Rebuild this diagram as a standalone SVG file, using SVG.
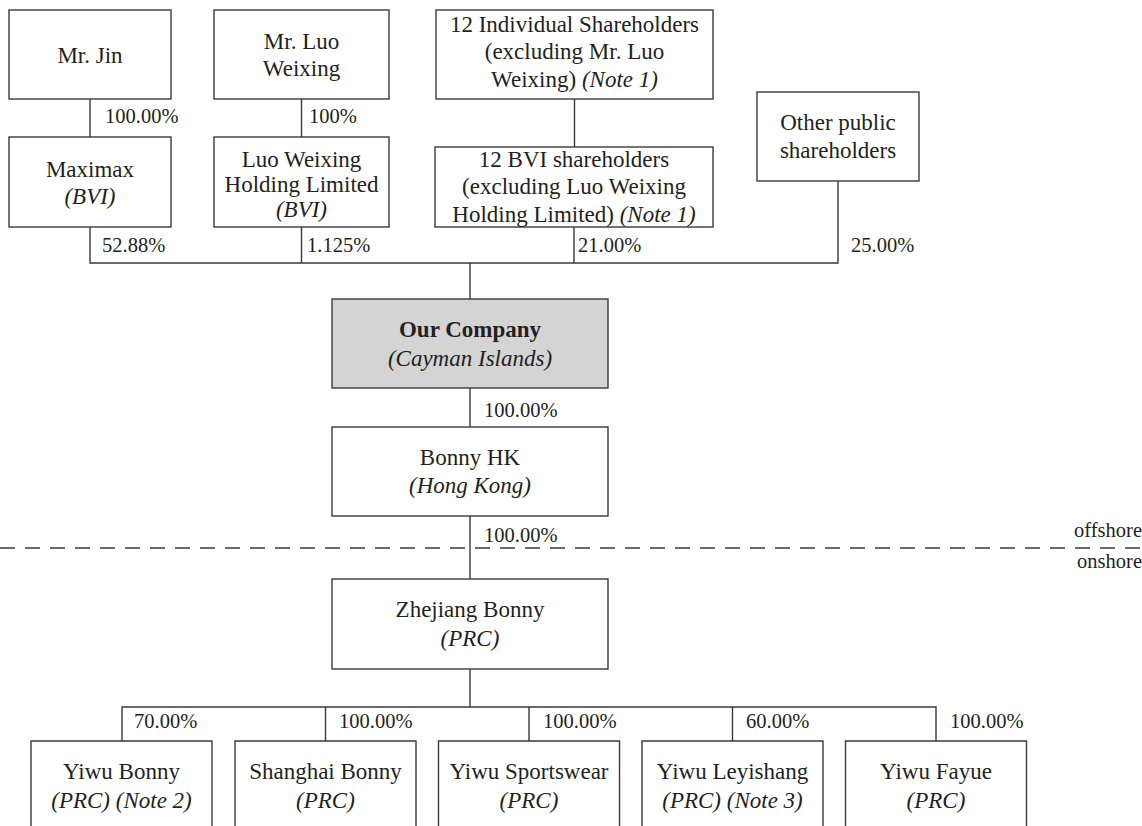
<svg xmlns="http://www.w3.org/2000/svg" width="1142" height="826" viewBox="0 0 1142 826">
<style>
.box{fill:#fff;stroke:#3a3a3a;stroke-width:1.4}
.gray{fill:#d4d4d4}
.t{font-family:"Liberation Serif","Times New Roman",serif;font-size:23px;fill:#231f20;text-anchor:middle}
.p{font-family:"Liberation Serif","Times New Roman",serif;font-size:20.5px;fill:#231f20}
.i{font-style:italic}
.b{font-weight:bold}
.ln{fill:none;stroke:#3a3a3a;stroke-width:1.4}
.dash{fill:none;stroke:#3a3a3a;stroke-width:1.4;stroke-dasharray:15 10}
</style>
<rect width="1142" height="826" fill="#fff"/>
<g id="connectors">
<path class="ln" d="M90 99V137M301.5 99V137M574.5 99V147"/>
<path class="ln" d="M90 227V263H838V181M301.5 227V263M574 227V263M470 263V299"/>
<path class="ln" d="M470 388V427M470 516V579"/>
<path class="ln" d="M470 669V707M122 741V707H936V741M325.5 707V741M529 707V741M732.5 707V741"/>
<path class="dash" d="M0 548H1142"/>
</g>
<g id="labels">
<text class="p" x="105" y="123">100.00%</text>
<text class="p" x="309" y="123">100%</text>
<text class="p" x="102" y="252">52.88%</text>
<text class="p" x="307" y="252">1.125%</text>
<text class="p" x="578" y="252">21.00%</text>
<text class="p" x="851" y="252">25.00%</text>
<text class="p" x="484" y="417">100.00%</text>
<text class="p" x="484" y="542">100.00%</text>
<text class="p" x="134" y="728">70.00%</text>
<text class="p" x="339" y="728">100.00%</text>
<text class="p" x="543" y="728">100.00%</text>
<text class="p" x="746" y="728">60.00%</text>
<text class="p" x="950" y="728">100.00%</text>
<text class="p" x="1142" y="537" text-anchor="end">offshore</text>
<text class="p" x="1142" y="568" text-anchor="end">onshore</text>
</g>
<g id="mr-jin"><rect class="box" x="9" y="10" width="162" height="89"/><text class="t" x="90" y="63">Mr. Jin</text></g>
<g id="mr-luo"><rect class="box" x="214" y="10" width="175" height="89"/><text class="t" x="301.5" y="49">Mr. Luo</text><text class="t" x="301.5" y="76">Weixing</text></g>
<g id="individual-12"><rect class="box" x="436" y="10" width="277" height="89"/><text class="t" x="574.5" y="32">12 Individual Shareholders</text><text class="t" x="574.5" y="59">(excluding Mr. Luo</text><text class="t" x="574.5" y="87">Weixing) <tspan class="i">(Note 1)</tspan></text></g>
<g id="maximax"><rect class="box" x="9" y="137" width="162" height="90"/><text class="t" x="90" y="177">Maximax</text><text class="t i" x="90" y="204">(BVI)</text></g>
<g id="luo-holding"><rect class="box" x="214" y="137" width="175" height="90"/><text class="t" x="301.5" y="167">Luo Weixing</text><text class="t" x="301.5" y="192">Holding Limited</text><text class="t i" x="301.5" y="217">(BVI)</text></g>
<g id="bvi-12"><rect class="box" x="435" y="147" width="278" height="80"/><text class="t" x="574" y="167">12 BVI shareholders</text><text class="t" x="574" y="194">(excluding Luo Weixing</text><text class="t" x="574" y="222">Holding Limited) <tspan class="i">(Note 1)</tspan></text></g>
<g id="other-public"><rect class="box" x="757" y="92" width="162" height="89"/><text class="t" x="838" y="130">Other public</text><text class="t" x="838" y="158">shareholders</text></g>
<g id="our-company"><rect class="box gray" x="332" y="299" width="276" height="89"/><text class="t b" x="470" y="337">Our Company</text><text class="t i" x="470" y="366">(Cayman Islands)</text></g>
<g id="bonny-hk"><rect class="box" x="332" y="427" width="276" height="89"/><text class="t" x="470" y="465">Bonny HK</text><text class="t i" x="470" y="493">(Hong Kong)</text></g>
<g id="zhejiang-bonny"><rect class="box" x="332" y="579" width="276" height="90"/><text class="t" x="470" y="617">Zhejiang Bonny</text><text class="t i" x="470" y="646">(PRC)</text></g>
<g id="yiwu-bonny"><path class="box" d="M31 830V741H212V830"/><text class="t" x="121.5" y="779">Yiwu Bonny</text><text class="t i" x="121.5" y="808">(PRC) (Note 2)</text></g>
<g id="shanghai-bonny"><path class="box" d="M235 830V741H416V830"/><text class="t" x="325.5" y="779">Shanghai Bonny</text><text class="t i" x="325.5" y="808">(PRC)</text></g>
<g id="yiwu-sportswear"><path class="box" d="M438.5 830V741H619.5V830"/><text class="t" x="529" y="779">Yiwu Sportswear</text><text class="t i" x="529" y="808">(PRC)</text></g>
<g id="yiwu-leyishang"><path class="box" d="M642 830V741H823V830"/><text class="t" x="732.5" y="779">Yiwu Leyishang</text><text class="t i" x="732.5" y="808">(PRC) (Note 3)</text></g>
<g id="yiwu-fayue"><path class="box" d="M845.5 830V741H1026.5V830"/><text class="t" x="936" y="779">Yiwu Fayue</text><text class="t i" x="936" y="808">(PRC)</text></g>
</svg>
